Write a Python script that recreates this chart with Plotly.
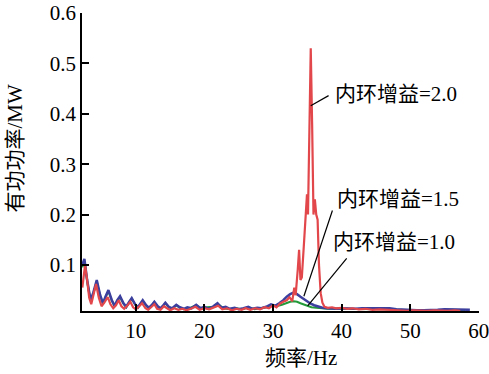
import plotly.graph_objects as go

# ---- data ----
freq_g15 = [2.2, 2.5, 2.9, 3.4, 3.8, 4.3, 4.8, 5.2, 5.6, 6.0, 6.5, 6.9, 7.3, 7.7, 8.2, 8.6, 9.0, 9.4, 9.9,
            10.3, 10.6, 11.0, 11.5, 11.9, 12.3, 12.7, 13.2, 13.6, 14.0, 14.3, 14.8, 15.3, 15.9, 16.4, 17.0,
            17.5, 18.1, 18.8, 19.4, 20.0, 20.6, 21.3, 21.9, 22.5, 23.1, 23.7, 24.4, 25.0, 25.7, 26.4, 27.0,
            27.7, 28.3, 29.0, 29.7, 30.3, 30.9, 31.5, 32.0, 32.5, 33.0, 33.5, 34.0, 34.5, 35.0, 35.5, 36.0,
            36.6, 37.2, 37.9, 38.6, 39.4, 40.2, 41.0, 42.0, 43.0, 44.0, 45.0, 46.0, 47.0, 48.0, 49.0, 50.0,
            51.0, 52.0, 53.0, 54.0, 55.0, 56.0, 57.0, 58.0, 58.7]
power_g15 = [0.100, 0.112, 0.070, 0.030, 0.045, 0.070, 0.040, 0.024, 0.038, 0.050, 0.030, 0.019, 0.030,
             0.038, 0.024, 0.017, 0.026, 0.034, 0.022, 0.016, 0.022, 0.030, 0.020, 0.015, 0.020, 0.027,
             0.018, 0.014, 0.020, 0.025, 0.017, 0.014, 0.021, 0.016, 0.013, 0.016, 0.014, 0.021, 0.014,
             0.017, 0.013, 0.018, 0.024, 0.015, 0.017, 0.013, 0.015, 0.012, 0.014, 0.017, 0.013, 0.015,
             0.014, 0.017, 0.022, 0.019, 0.024, 0.030, 0.037, 0.042, 0.045, 0.042, 0.037, 0.032, 0.027,
             0.023, 0.020, 0.017, 0.015, 0.014, 0.013, 0.013, 0.014, 0.013, 0.013, 0.014, 0.014, 0.015,
             0.015, 0.014, 0.012, 0.011, 0.011, 0.010, 0.010, 0.010, 0.011, 0.012, 0.012, 0.012, 0.011,
             0.011]

freq_g10 = [2.2, 2.5, 2.9, 3.4, 3.8, 4.3, 4.8, 5.2, 5.6, 6.0, 6.5, 6.9, 7.3, 7.7, 8.2, 8.6, 9.0, 9.4, 9.9,
            10.3, 10.6, 11.0, 11.5, 11.9, 12.3, 12.7, 13.2, 13.6, 14.0, 14.3, 14.8, 15.3, 15.9, 16.4, 17.0,
            18.0, 18.8, 19.6, 20.4, 21.3, 21.9, 22.8, 23.7, 24.6, 25.5, 26.4, 27.3, 28.2, 29.0, 29.7, 30.5,
            31.3, 32.0, 32.5, 33.0, 33.5, 34.0, 34.5, 35.0, 35.6, 36.3, 37.0, 38.0, 39.0, 40.0, 42.0, 44.0,
            46.0, 48.0, 50.0, 52.0, 54.0, 56.0, 58.0]
power_g10 = [0.095, 0.108, 0.068, 0.029, 0.043, 0.067, 0.038, 0.023, 0.036, 0.048, 0.029, 0.018, 0.029,
             0.036, 0.023, 0.016, 0.025, 0.033, 0.021, 0.015, 0.021, 0.029, 0.019, 0.014, 0.019, 0.026,
             0.017, 0.013, 0.019, 0.024, 0.016, 0.013, 0.020, 0.015, 0.012, 0.015, 0.020, 0.013, 0.016,
             0.017, 0.023, 0.014, 0.012, 0.014, 0.012, 0.016, 0.012, 0.014, 0.016, 0.020, 0.018, 0.021,
             0.025, 0.027, 0.028, 0.027, 0.024, 0.021, 0.018, 0.016, 0.015, 0.014, 0.013, 0.013, 0.013,
             0.012, 0.012, 0.012, 0.011, 0.010, 0.010, 0.010, 0.011, 0.010]

freq_g20 = [2.2, 2.4, 2.6, 2.9, 3.2, 3.5, 3.9, 4.2, 4.6, 5.0, 5.4, 5.9, 6.3, 6.7, 7.1, 7.5, 7.9, 8.3, 8.8,
            9.2, 9.6, 10.0, 10.5, 10.9, 11.4, 11.8, 12.3, 12.7, 13.1, 13.6, 14.1, 14.5, 15.0, 15.6, 16.2,
            16.8, 17.4, 18.0, 18.7, 19.3, 20.0, 20.7, 21.4, 22.0, 22.6, 23.3, 24.0, 24.7, 25.4, 26.0, 26.7,
            27.4, 28.1, 28.8, 29.4, 30.0, 30.5, 31.0, 31.5, 32.0, 32.4, 32.8, 33.1, 33.3, 33.6, 33.8, 34.0,
            34.2, 34.5, 34.8, 34.95, 35.1, 35.3, 35.5, 35.7, 35.9, 36.1, 36.3, 36.5, 36.7, 36.95, 37.2, 37.5,
            38.0, 38.6, 39.2, 40.0, 40.8, 41.6, 42.5, 43.5, 44.5, 45.5, 46.5, 47.5, 48.5, 49.5, 50.5, 51.5,
            52.5, 53.5, 54.5, 55.5, 56.5, 57.3]
power_g20 = [0.055, 0.075, 0.100, 0.070, 0.035, 0.022, 0.045, 0.062, 0.035, 0.018, 0.025, 0.036, 0.022,
             0.014, 0.020, 0.030, 0.018, 0.013, 0.020, 0.027, 0.016, 0.012, 0.018, 0.024, 0.014, 0.011,
             0.017, 0.022, 0.013, 0.011, 0.018, 0.014, 0.010, 0.014, 0.011, 0.013, 0.010, 0.013, 0.017,
             0.011, 0.014, 0.012, 0.016, 0.019, 0.012, 0.014, 0.010, 0.013, 0.011, 0.014, 0.011, 0.014,
             0.012, 0.016, 0.014, 0.020, 0.016, 0.023, 0.027, 0.030, 0.036, 0.028, 0.055, 0.040, 0.090,
             0.130, 0.070, 0.075, 0.140, 0.200, 0.240, 0.200, 0.380, 0.530, 0.380, 0.200, 0.230, 0.200,
             0.190, 0.100, 0.044, 0.025, 0.017, 0.015, 0.016, 0.014, 0.015, 0.013, 0.014, 0.012, 0.013,
             0.011, 0.012, 0.011, 0.010, 0.010, 0.009, 0.010, 0.009, 0.009, 0.010, 0.009, 0.009, 0.010,
             0.009]

x_ticks = [10, 20, 30, 40, 50, 60]
x_tick_text = ["10", "20", "30", "40", "50", "60"]
y_ticks = [0.1, 0.2, 0.3, 0.4, 0.5, 0.6]
y_tick_text = ["0.1", "0.2", "0.3", "0.4", "0.5", "0.6"]

labels = ["内环增益=2.0", "内环增益=1.5", "内环增益=1.0"]
# (pointed-at data point, leader-line end, text anchor) in data units
label_points = [(35.5, 0.416), (34.5, 0.038), (35.05, 0.019)]
line_ends = [(38.1, 0.436), (38.66, 0.208), (40.74, 0.113)]
text_pos = [(38.8, 0.44), (39.1, 0.231), (38.4, 0.145)]

SERIF = "Liberation Serif, Noto Sans CJK SC, serif"

fig = go.Figure()
fig.add_trace(go.Scatter(x=freq_g10, y=power_g10, mode="lines",
                         line=dict(color="#229a3a", width=2), name="内环增益=1.0"))
fig.add_trace(go.Scatter(x=freq_g15, y=power_g15, mode="lines",
                         line=dict(color="#3c3f9e", width=2.5), name="内环增益=1.5"))
fig.add_trace(go.Scatter(x=freq_g20, y=power_g20, mode="lines",
                         line=dict(color="#e2474b", width=2.2), name="内环增益=2.0"))

for (px, py), (ex, ey) in zip(label_points, line_ends):
    fig.add_shape(type="line", xref="x", yref="y", x0=px, y0=py, x1=ex, y1=ey,
                  line=dict(color="black", width=1.2))

for txt, (tx, ty) in zip(labels, text_pos):
    fig.add_annotation(x=tx, y=ty, xref="x", yref="y", text=txt, showarrow=False,
                       xanchor="left", yanchor="middle",
                       font=dict(family=SERIF, size=21, color="black"))

# axis titles
fig.add_annotation(text="频率/Hz", xref="paper", yref="paper",
                   x=(301 - 82) / 397, y=-(358 - 311) / 298, xanchor="center", yanchor="middle",
                   showarrow=False, font=dict(family=SERIF, size=21, color="black"))
fig.add_annotation(text="有功功率/MW", xref="paper", yref="paper", textangle=-90,
                   x=-(82 - 14) / 397, y=(311 - 148.5) / 298, xanchor="center", yanchor="middle",
                   showarrow=False, font=dict(family=SERIF, size=21, color="black"))

fig.update_layout(
    width=489, height=374,
    margin=dict(l=82, r=10, t=13, b=63, autoexpand=False),
    paper_bgcolor="white", plot_bgcolor="white",
    showlegend=False,
    font=dict(family=SERIF, size=21, color="black"),
)
fig.update_xaxes(range=[2.15, 60.03], tickvals=x_ticks, ticktext=x_tick_text, ticks="inside",
                 ticklen=7, tickwidth=1.5, ticklabeloverflow="allow",
                 tickcolor="black", showline=True, linecolor="black", linewidth=1.5, automargin=False,
                 showgrid=False, zeroline=False, tickfont=dict(family=SERIF, size=21))
fig.update_yaxes(range=[0.0086, 0.6], tickvals=y_ticks, ticktext=y_tick_text, ticks="inside",
                 ticklen=7, tickwidth=1.5, tickcolor="black", showline=True, linecolor="black",
                 linewidth=1.5, automargin=False, ticklabeloverflow="allow",
                 showgrid=False, zeroline=False, tickfont=dict(family=SERIF, size=21))

fig.write_html("out.html", config={"displayModeBar": False},
               post_script="document.body.style.margin='0px';document.body.style.padding='0px';")
